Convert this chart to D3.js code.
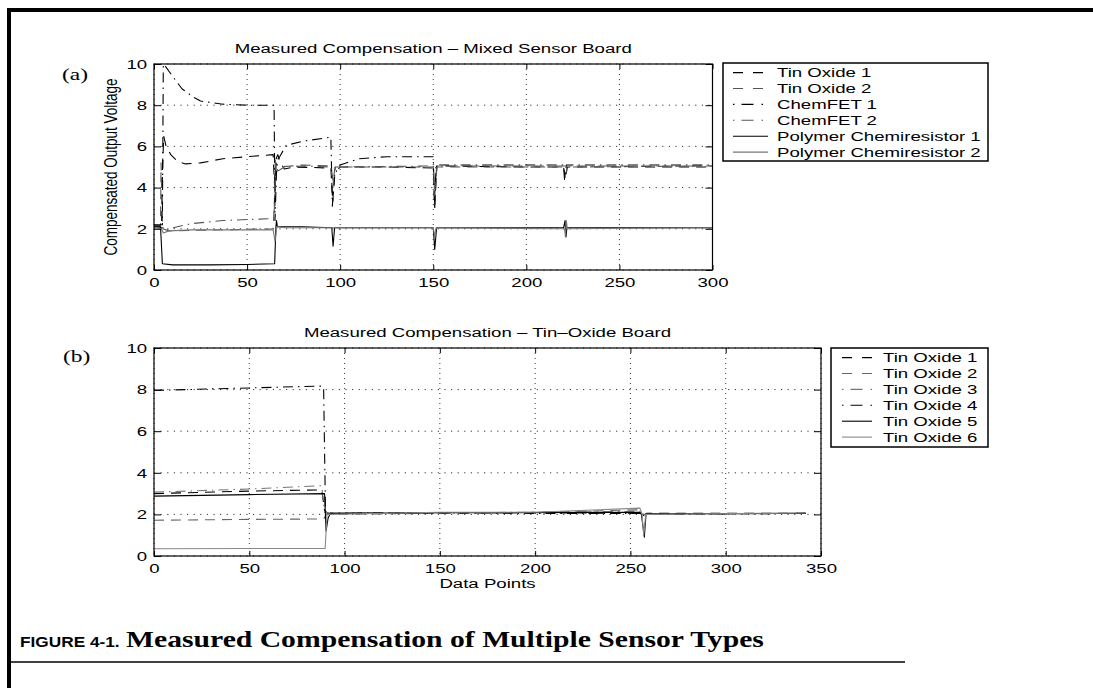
<!DOCTYPE html>
<html>
<head>
<meta charset="utf-8">
<script src="https://cdn.jsdelivr.net/npm/d3@7"></script>
<style>
  html, body { margin: 0; padding: 0; background: #fff; }
  svg { display: block; }
</style>
</head>
<body>
<svg id="fig" width="1093" height="688"></svg>
<script>
// ---------- axis ticks ----------
const xTicksA = [0, 50, 100, 150, 200, 250, 300];
const xTicksB = [0, 50, 100, 150, 200, 250, 300, 350];
const yTicks = [0, 2, 4, 6, 8, 10];

// ---------- (a) Mixed sensor board ----------
const namesA = ["Tin Oxide 1", "Tin Oxide 2", "ChemFET 1", "ChemFET 2",
                "Polymer Chemiresistor 1", "Polymer Chemiresistor 2"];

const tinOxide1A = [[0,2.15],[3,2.15],[4,2.0],[4.6,4.9],[5.2,6.5],[6.5,6.0],[9,5.6],[13,5.25],[17,5.15],
  [25,5.2],[37,5.4],[50,5.5],[64,5.6],[65,3.6],[65.6,5.4],[66.5,5.6],[68,5.2],[70,4.9],[75,5.0],
  [95,4.95],[96,3.3],[97,4.6],[98,4.8],[100,5.0],[125,5.0],[150,4.95],[150.8,3.0],[151.8,5.05],
  [200,5.0],[220,5.0],[221,4.4],[222,5.0],[300,5.0]];
const tinOxide2A = [[0,2.1],[3.5,2.1],[3.8,5.2],[4.2,3.5],[4.7,2.0],[8,1.9],[64,2.0],[65,4.0],[65.5,5.2],
  [67,5.0],[80,5.1],[95,5.05],[96.3,4.3],[97.2,5.0],[150,5.0],[151,3.4],[152,5.0],[220,5.0],
  [221,4.6],[222,5.0],[300,5.05]];
const chemFET1A = [[0,2.2],[4.5,2.2],[5,10],[6,9.9],[10,9.4],[15,8.8],[21,8.4],[25,8.2],[37,8.05],
  [50,8.0],[64.5,8.0],[65,2.4],[66,5.3],[67.5,5.5],[71,6.05],[80,6.25],[95,6.45],[95.8,3.1],
  [97,4.5],[98,4.8],[100,5.1],[110,5.4],[125,5.5],[150,5.5],[150.7,3.0],[151.5,5.1],[200,5.1],
  [220,5.1],[220.5,4.4],[221.5,5.1],[300,5.1]];
const chemFET2A = [[0,2.1],[5,2.05],[6,1.9],[10,2.05],[20,2.25],[37,2.4],[50,2.45],[64.5,2.5],
  [65.2,5.4],[66.5,4.8],[70,5.0],[80,5.05],[95,5.0],[96.5,4.2],[97.5,5.0],[150,5.05],[150.8,3.6],
  [152,5.05],[300,5.05]];
const polymer1A = [[0,2.1],[3.5,2.1],[4.5,0.3],[10,0.25],[30,0.25],[50,0.27],[64.8,0.3],[65.5,2.1],
  [65.8,2.4],[66.3,2.1],[80,2.1],[95.5,2.05],[96.2,1.15],[97,2.05],[150,2.05],[150.8,1.0],
  [151.8,2.05],[220,2.05],[220.8,2.4],[221.3,1.6],[221.8,2.05],[300,2.05]];
const polymer2A = [[0,2.05],[4,2.0],[5,1.8],[8,1.9],[20,1.95],[64,1.95],[65,1.4],[66,2.1],[70,2.05],
  [150,2.05],[150.8,1.6],[151.5,2.05],[220.5,2.0],[221,1.6],[221.5,2.4],[222,2.0],[300,2.05]];

// ---------- (b) Tin-oxide board ----------
const namesB = ["Tin Oxide 1", "Tin Oxide 2", "Tin Oxide 3", "Tin Oxide 4", "Tin Oxide 5", "Tin Oxide 6"];

const tinOxide1B = [[0,3.0],[50,3.12],[88,3.18],[89.5,2.2],[91,2.05],[150,2.08],[200,2.08],[255,2.05],
  [256,1.9],[258.5,2.05],[342,2.05]];
const tinOxide2B = [[0,1.72],[50,1.76],[89,1.78],[90.5,2.0],[150,2.05],[200,2.1],[255,2.22],
  [256.5,2.0],[342,2.05]];
const tinOxide3B = [[0,3.07],[50,3.22],[88,3.38],[89.5,2.1],[92,2.07],[200,2.1],[255,2.15],[256,2.0],
  [342,2.05]];
const tinOxide4B = [[0,7.96],[50,8.08],[88,8.17],[89,8.1],[90,2.05],[150,2.08],[200,2.05],[255,2.05],
  [256,2.0],[342,2.05]];
const tinOxide5B = [[0,2.88],[50,2.95],[89.5,3.0],[90.3,1.2],[91.3,1.8],[92.5,2.05],[150,2.08],
  [255,2.1],[255.7,2.05],[257.3,0.9],[258.2,2.03],[342,2.05]];
const tinOxide6B = [[0,0.35],[50,0.36],[89.8,0.36],[90.8,2.0],[150,2.1],[200,2.1],[255,2.3],[256,2.05],
  [257,1.0],[258,2.0],[342,2.07]];

// ---------- look ----------
const K = 1.38;          // horizontal glyph stretch of the printed figure
const FS = 13.5;         // axis / legend font size
const SANS = "'Liberation Sans', Arial, Helvetica, sans-serif";
const SERIF = "'Liberation Serif', 'Times New Roman', Times, serif";
const DASH = { solid: null, dash: "10,7", dashdot: "10,5,1.5,5" };
const LEG_DASH = { solid: null, dash: "10,10", dashdot: "1.5,7,12,8,1.5,10" };

const svg = d3.select("#fig");

function stext(g, x, y, str, o = {}) {
  const k = o.k || K;
  return g.append("text")
    .attr("transform", `translate(${x},${y}) scale(${k},1)` + (o.rot ? ` rotate(${o.rot})` : ""))
    .attr("text-anchor", o.anchor || "start")
    .attr("font-family", o.family || SANS)
    .attr("font-size", o.size || FS)
    .attr("font-weight", o.weight || "normal")
    .attr("fill", "#000")
    .text(str);
}

function panel(cfg) {
  const x = d3.scaleLinear().domain([0, cfg.xMax]).range([cfg.left, cfg.right]);
  const y = d3.scaleLinear().domain([0, 10]).range([cfg.bottom, cfg.top]);
  const g = svg.append("g");

  // dotted grid
  g.append("g").selectAll("line").data(cfg.xTicks).join("line")
    .attr("x1", d => x(d)).attr("x2", d => x(d))
    .attr("y1", cfg.top).attr("y2", cfg.bottom)
    .attr("stroke", "#000").attr("stroke-width", 0.8).attr("stroke-dasharray", "1,4");
  g.append("g").selectAll("line").data(yTicks).join("line")
    .attr("x1", cfg.left).attr("x2", cfg.right)
    .attr("y1", d => y(d)).attr("y2", d => y(d))
    .attr("stroke", "#000").attr("stroke-width", 0.8).attr("stroke-dasharray", "1.2,5.4");

  // data
  const line = d3.line().x(d => x(d[0])).y(d => y(d[1]));
  cfg.series.forEach((s, i) => {
    g.append("path").attr("d", line(s))
      .attr("fill", "none")
      .attr("stroke", cfg.colors[i])
      .attr("stroke-width", 1.1)
      .attr("stroke-linejoin", "round")
      .attr("stroke-dasharray", DASH[cfg.styles[i]]);
  });

  // axes with inward ticks on all four sides
  const fmt = d3.format("d");
  const bottomAx = g.append("g").attr("transform", `translate(0,${cfg.bottom})`)
    .call(d3.axisBottom(x).tickValues(cfg.xTicks).tickFormat(fmt).tickSizeInner(-5).tickSizeOuter(0).tickPadding(7));
  const leftAx = g.append("g").attr("transform", `translate(${cfg.left},0)`)
    .call(d3.axisLeft(y).tickValues(yTicks).tickFormat(fmt).tickSizeInner(-7).tickSizeOuter(0).tickPadding(5));
  const topAx = g.append("g").attr("transform", `translate(0,${cfg.top})`)
    .call(d3.axisTop(x).tickValues(cfg.xTicks).tickFormat("").tickSizeInner(-5).tickSizeOuter(0));
  const rightAx = g.append("g").attr("transform", `translate(${cfg.right},0)`)
    .call(d3.axisRight(y).tickValues(yTicks).tickFormat("").tickSizeInner(-7).tickSizeOuter(0));
  [bottomAx, leftAx, topAx, rightAx].forEach(a => {
    a.select(".domain").remove();
    a.attr("font-family", SANS).attr("font-size", FS);
    a.selectAll(".tick line").attr("stroke", "#000").attr("stroke-width", 1);
    a.selectAll("text").attr("transform", `scale(${K},1)`).attr("fill", "#000");
  });

  // axes box
  g.append("rect")
    .attr("x", cfg.left).attr("y", cfg.top)
    .attr("width", cfg.right - cfg.left).attr("height", cfg.bottom - cfg.top)
    .attr("fill", "none").attr("stroke", "#000").attr("stroke-width", 1.2);

  // title and labels
  stext(g, (cfg.left + cfg.right) / 2, cfg.top - 11, cfg.title, { anchor: "middle" });
  if (cfg.xLabel) stext(g, (cfg.left + cfg.right) / 2, cfg.bottom + 32, cfg.xLabel, { anchor: "middle" });
  if (cfg.yLabel) stext(g, cfg.left - 37, (cfg.top + cfg.bottom) / 2, cfg.yLabel, { anchor: "middle", rot: -90 });
  stext(g, cfg.tag.x, cfg.tag.y, cfg.tag.text, { family: SERIF, size: 17 });

  // legend
  const L = cfg.legend;
  const lg = svg.append("g");
  lg.append("rect").attr("x", L.x).attr("y", L.y).attr("width", L.w).attr("height", L.h)
    .attr("fill", "#fff").attr("stroke", "#000").attr("stroke-width", 1.5);
  cfg.names.forEach((n, i) => {
    const cy = L.y + L.first + i * L.step;
    lg.append("line").attr("x1", L.lx1).attr("x2", L.lx2).attr("y1", cy).attr("y2", cy)
      .attr("stroke", cfg.colors[i]).attr("stroke-width", 1.1)
      .attr("stroke-dasharray", LEG_DASH[cfg.styles[i]]);
    stext(lg, L.tx, cy + 4.8, n);
  });
}

// page frame
svg.append("rect").attr("x", 7).attr("y", 8).attr("width", 1093 - 7).attr("height", 4).attr("fill", "#000");
svg.append("rect").attr("x", 7).attr("y", 8).attr("width", 4).attr("height", 688 - 8).attr("fill", "#000");

panel({
  left: 154, right: 712.5, top: 64, bottom: 270, xMax: 300, xTicks: xTicksA,
  series: [tinOxide1A, tinOxide2A, chemFET1A, chemFET2A, polymer1A, polymer2A],
  names: namesA,
  styles: ["dash", "dash", "dashdot", "dashdot", "solid", "solid"],
  colors: ["#000", "#555", "#000", "#555", "#000", "#777"],
  title: "Measured Compensation \u2013 Mixed Sensor Board",
  yLabel: "Compensated Output Voltage",
  tag: { x: 62, y: 80, text: "(a)" },
  legend: { x: 723, y: 63, w: 265, h: 98, first: 9.6, step: 15.9, lx1: 733, lx2: 768, tx: 777 }
});

panel({
  left: 154, right: 821, top: 348, bottom: 556, xMax: 350, xTicks: xTicksB,
  series: [tinOxide1B, tinOxide2B, tinOxide3B, tinOxide4B, tinOxide5B, tinOxide6B],
  names: namesB,
  styles: ["dash", "dash", "dashdot", "dashdot", "solid", "solid"],
  colors: ["#000", "#666", "#777", "#000", "#000", "#888"],
  title: "Measured Compensation \u2013 Tin\u2013Oxide Board",
  xLabel: "Data Points",
  tag: { x: 63, y: 362, text: "(b)" },
  legend: { x: 831, y: 348, w: 157, h: 99, first: 9.6, step: 15.9, lx1: 842, lx2: 872, tx: 883 }
});

// figure caption and rule
const cap = svg.append("g");
stext(cap, 20, 647, "FIGURE 4-1.", { weight: "bold", size: 15, k: 1.15 });
stext(cap, 126, 647, "Measured Compensation of Multiple Sensor Types", { family: SERIF, weight: "bold", size: 23, k: 1.29 });
cap.append("line").attr("x1", 11).attr("x2", 905).attr("y1", 662).attr("y2", 662)
  .attr("stroke", "#000").attr("stroke-width", 1.5);
</script>
</body>
</html>
